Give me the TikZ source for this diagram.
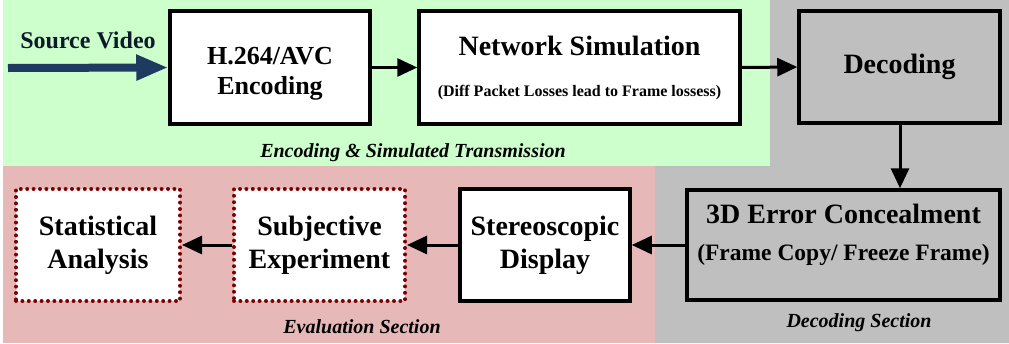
\documentclass[tikz,border=0pt]{standalone}
\usepackage{fontspec}
\setmainfont{Liberation Serif}
\usepackage{xcolor}
\usepackage{tikz}
\usetikzlibrary{arrows.meta, positioning, calc}
\definecolor{encgreen}{HTML}{CCFFCC}
\definecolor{evalpink}{HTML}{E6B9B8}
\definecolor{decgray}{HTML}{BFBFBF}
\definecolor{srcnavy}{HTML}{1F3A60}
\definecolor{dotred}{HTML}{7F0000}
\newcommand{\fs}[2]{\fontsize{#1}{#2}\selectfont}
% raise a centred text block without changing the node size
\newcommand{\lift}[2]{\raisebox{#1}[\height][\depth]{\begin{tabular}{@{}c@{}}#2\end{tabular}}}

\begin{document}
\begin{tikzpicture}[x=1pt,y=-1pt,
  block/.style={draw=black, line width=3.5pt, fill=white, align=center,
    inner sep=2pt, font=\bfseries\fs{28}{33}},
  grayblock/.style={block, fill=decgray},
  dotblock/.style={block, draw=dotred, line width=4pt, line cap=round,
    dash pattern=on 0pt off 6.4pt},
  flow/.style={line width=3pt, -{Triangle[length=20pt,width=18pt]}},
  seclabel/.style={font=\bfseries\itshape\fs{20}{24}}]
\useasboundingbox (0,0) rectangle (1009,343);
% Section backgrounds
\fill[encgreen] (3,0) rectangle (770,166);
\fill[evalpink] (3,166) rectangle (655,343);
\fill[decgray] (770,0) -- (1009,0) -- (1009,343) -- (655,343)
  -- (655,166) -- (770,166) -- cycle;
% Top row
\node[block, minimum width=200pt, minimum height=113pt,
  font=\bfseries\fs{26}{30}] (enc) at (270,67.5)
  {\lift{-6pt}{H.264/AVC\\Encoding}};
\node[block, minimum width=321pt, minimum height=113pt] (net) at (579.5,67.5)
  {Network Simulation\\[8pt]{\fs{16}{19}(Diff Packet Losses lead to Frame lossess)}};
\node[grayblock, minimum width=201pt, minimum height=112pt] (dec) at (899.5,67)
  {Decoding};
% Bottom row
\node[grayblock, minimum width=313pt, minimum height=110pt] (conc) at (843.5,245)
  {\lift{10pt}{3D Error Concealment\\[4pt]{\fs{23.5}{28}(Frame Copy/ Freeze Frame)}}};
\node[block, minimum width=170pt, minimum height=112pt] (disp) at (545,245)
  {Stereoscopic\\Display};
\node[dotblock, minimum width=171pt, minimum height=112pt] (subj) at (319.5,245)
  {Subjective\\Experiment};
\node[dotblock, minimum width=164pt, minimum height=112pt] (stat) at (98,245)
  {Statistical\\Analysis};
% Source video input
\coordinate (src) at (8,68);
\node[font=\bfseries\fs{24}{28}, text=srcnavy!45!black] (srclbl) at (88,40) {Source Video};
\draw[srcnavy, line width=8pt, -{Triangle[length=32pt,width=24pt]}] (src) -- (enc.west);
% Connectors
\coordinate (vx) at (900,0);
\draw[flow] (enc.east) -- (net.west);
\draw[flow] (net.east) -- (dec.west);
\draw[flow] (dec.south -| vx) -- (conc.north -| vx);
\draw[flow] (conc.west) -- (disp.east);
\draw[flow] (disp.west) -- (subj.east);
\draw[flow] (subj.west) -- (stat.east);
% Section labels
\node[seclabel] (enclbl) at (413,153) {Encoding \& Simulated Transmission};
\node[seclabel] (evallbl) at (362,327) {Evaluation Section};
\node[seclabel] (declbl) at (859,323) {Decoding Section};
\end{tikzpicture}
\end{document}
